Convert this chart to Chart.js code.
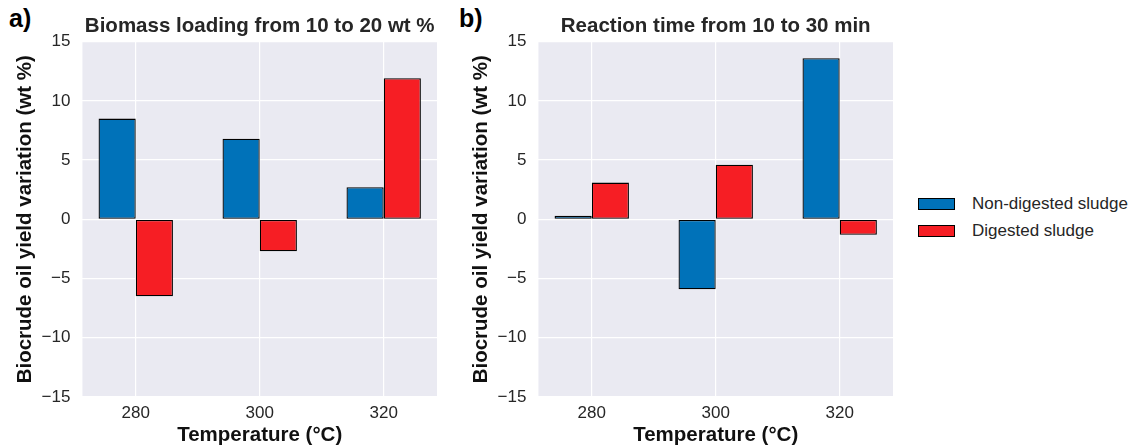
<!DOCTYPE html>
<html>
<head>
<meta charset="utf-8">
<script src="https://cdn.jsdelivr.net/npm/chart.js@4.4.1/dist/chart.umd.min.js"></script>
<style>
  body { margin: 0; background: #fff; width: 1148px; height: 446px; overflow: hidden; position: relative; font-family: "Liberation Sans", Arial, sans-serif; }
  canvas { position: absolute; top: 0; }
  .tag { position: absolute; top: 4px; font: bold 25px "Liberation Sans", Arial, sans-serif; color: #000; }
  #legend { position: absolute; left: 918px; top: 190px; }
  #legend div { height: 27px; display: flex; align-items: center; font-size: 17px; color: #262626; white-space: nowrap; }
  #legend span.box { display: inline-block; width: 35px; height: 10px; margin-right: 17px; }
</style>
</head>
<body>
<div class="tag" style="left:9px">a)</div>
<div class="tag" style="left:459px">b)</div>
<canvas id="chartA" width="455" height="446" style="left:0"></canvas>
<canvas id="chartB" width="455" height="446" style="left:456px"></canvas>
<div id="legend"></div>
<script>
const temps = ["280", "300", "320"];
const seriesNames = ["Non-digested sludge", "Digested sludge"];

// a) biomass loading 10 -> 20 wt %
const loadingNonDigested = [8.5, 6.8, 2.7];
const loadingDigested = [-6.5, -2.7, 11.9];

// b) reaction time 10 -> 30 min
const timeNonDigested = [0.3, -5.9, 13.6];
const timeDigested = [3.1, 4.6, -1.3];

const yTicks = [-15, -10, -5, 0, 5, 10, 15];

const FONT = '"Liberation Sans", Arial, sans-serif';

// seaborn-ish grey plot background
const plotBg = {
    id: "plotBg",
    beforeDraw(chart) {
        const { ctx, chartArea: a } = chart;
        ctx.save();
        ctx.fillStyle = "#EAEAF2";
        ctx.fillRect(a.left, a.top, a.right - a.left, a.bottom - a.top);
        ctx.restore();
    },
};

function makeChart(id, title, blue, red) {
    const ctx = document.getElementById(id).getContext("2d");
    return new Chart(ctx, {
        type: "bar",
        data: {
            datasets: [
                {
                    label: seriesNames[0],
                    data: blue.map((v, i) => ({ x: i, y: v })),
                    backgroundColor: "#0072B9",
                    borderColor: "#000",
                    borderWidth: 1.3,
                    borderSkipped: false,
                },
                {
                    label: seriesNames[1],
                    data: red.map((v, i) => ({ x: i, y: v })),
                    backgroundColor: "#F61E24",
                    borderColor: "#000",
                    borderWidth: 1.3,
                    borderSkipped: false,
                },
            ],
        },
        options: {
            responsive: false,
            animation: false,
            categoryPercentage: 0.6,
            barPercentage: 1.0,
            layout: { padding: { top: 0, left: 9, right: 18, bottom: 0 } },
            plugins: {
                tooltip: { enabled: false },
                legend: { display: false },
                title: {
                    display: true,
                    text: title,
                    fullSize: false,
                    color: "#262626",
                    font: { family: FONT, size: 20.5, weight: "bold" },
                    padding: { top: 14, bottom: 3 },
                },
            },
            scales: {
                x: {
                    type: "linear",
                    offset: false,
                    min: -0.43,
                    max: 2.43,
                    afterBuildTicks(scale) {
                        scale.ticks = temps.map((_, i) => ({ value: i }));
                    },
                    ticks: {
                        color: "#262626",
                        font: { family: FONT, size: 17 },
                        padding: 6,
                        callback: (v) => temps[v],
                    },
                    grid: { color: "#fff", lineWidth: 1.2, drawTicks: false, offset: false },
                    border: { display: false },
                    title: {
                        display: true,
                        text: "Temperature (°C)",
                        color: "#111",
                        font: { family: FONT, size: 20.5, weight: "bold" },
                        padding: { top: -6, bottom: -2 },
                    },
                },
                y: {
                    min: -15,
                    max: 15,
                    afterBuildTicks(scale) {
                        scale.ticks = yTicks.map((v) => ({ value: v }));
                    },
                    ticks: {
                        color: "#262626",
                        font: { family: FONT, size: 17 },
                        padding: 12,
                        callback: (v) => (v < 0 ? "\u2212" + Math.abs(v) : String(v)),
                    },
                    grid: { color: "#fff", lineWidth: 1.2, drawTicks: false },
                    border: { display: false },
                    title: {
                        display: true,
                        text: "Biocrude oil yield variation (wt %)",
                        color: "#111",
                        font: { family: FONT, size: 20.5, weight: "bold" },
                        padding: { top: 4, bottom: -8 },
                    },
                },
            },
        },
        plugins: [plotBg],
    });
}

makeChart("chartA", "Biomass loading from 10 to 20 wt %", loadingNonDigested, loadingDigested);
const chartB = makeChart("chartB", "Reaction time from 10 to 30 min", timeNonDigested, timeDigested);

// html legend (a right-side canvas legend gets squeezed by the layout)
const legendEl = document.getElementById("legend");
Chart.defaults.plugins.legend.labels.generateLabels(chartB).forEach((item) => {
    const row = document.createElement("div");
    const box = document.createElement("span");
    box.className = "box";
    box.style.background = item.fillStyle;
    box.style.border = "1px solid " + item.strokeStyle;
    row.appendChild(box);
    row.appendChild(document.createTextNode(item.text));
    legendEl.appendChild(row);
});
</script>
</body>
</html>
